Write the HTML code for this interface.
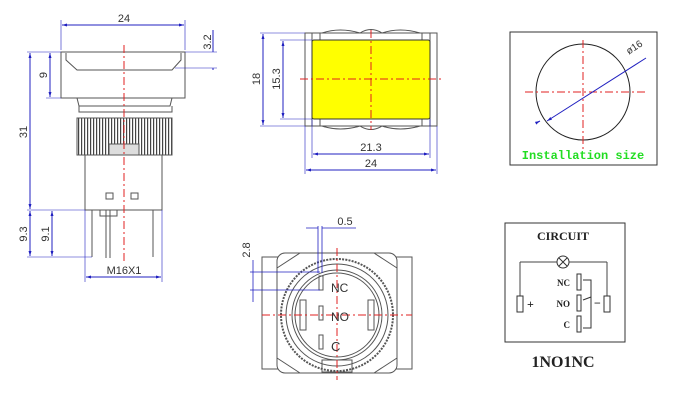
<!DOCTYPE html>
<html><head><style>body{margin:0;background:#fff}svg{display:block}</style></head><body>
<svg width="700" height="400" viewBox="0 0 700 400" xmlns="http://www.w3.org/2000/svg">
<defs>
<marker id="a" viewBox="0 0 10 10" refX="10" refY="5" markerWidth="5" markerHeight="5" orient="auto-start-reverse"><path d="M0,2L10,5L0,8z" fill="#2020c0"/></marker>
<pattern id="kn" width="3" height="10" patternUnits="userSpaceOnUse"><rect width="3" height="10" fill="#fff"/><rect width="1.2" height="10" fill="#444"/></pattern>
</defs>
<g fill="none" stroke="#555" stroke-width="1">
<rect x="61" y="52" width="124" height="46" fill="#fff"/>
<path d="M66,53 L66,60 L77,70 L172,70 L181,60 L181,53"/>
<path d="M77,98 L172,98 L170,106 L79,106 Z M79,106 L79,112 L172,112 L172,106"/>
<rect x="77" y="118" width="95" height="37" fill="url(#kn)"/>
<rect x="109" y="144" width="30" height="11" fill="#ddd"/>
<rect x="85" y="155" width="77" height="55" fill="#fff"/>
<rect x="106" y="193" width="7" height="6"/><rect x="131" y="193" width="7" height="6"/>
<path d="M92,210 L92,257 M153,210 L153,257 M106,210 L106,258 M110,210 L110,258 M100,210 L100,216 L117,216 L117,210"/>
<rect x="305" y="33" width="132" height="93" fill="#fff"/>
<path d="M312,33 L312,126 M430,33 L430,126 M320,33 L320,126 M422,33 L422,126"/>
<path d="M322,33 Q340,27 360,33 Q371,26 382,33 Q400,27 420,33 M322,126 Q340,132 360,126 Q371,133 382,126 Q400,132 420,126"/>
<rect x="312" y="40" width="118" height="79" rx="2" fill="#ffff00" stroke="#333"/>
<rect x="510" y="32" width="147" height="133" stroke="#333"/>
<ellipse cx="583" cy="92" rx="47" ry="48" stroke="#222"/>
<rect x="262" y="257" width="150" height="112" fill="#fff"/>
<rect x="277" y="253" width="120" height="120" rx="8" fill="#fff"/>
<circle cx="337" cy="315" r="56" stroke-dasharray="2 1.2" stroke-width="2"/>
<circle cx="337" cy="315" r="51"/>
<circle cx="337" cy="315" r="45"/>
<circle cx="337" cy="315" r="42"/>
<path d="M277,268 L300,253 M397,268 L374,253 M277,358 L300,373 M397,358 L374,373"/>
<rect x="300" y="300" width="6" height="30"/><rect x="368" y="300" width="6" height="30"/>
<rect x="319" y="276" width="4" height="14"/><rect x="319" y="306" width="4" height="14"/><rect x="319" y="335" width="4" height="14"/>
<rect x="322" y="360" width="30" height="12"/>
<rect x="505" y="223" width="120" height="119" stroke="#333"/>
<path d="M520,262 L520,296 M607,262 L607,296 M520,262 L557,262 M569,262 L607,262" stroke="#444"/>
<circle cx="563" cy="262" r="6" stroke="#333"/>
<path d="M559,258 L567,266 M567,258 L559,266" stroke="#333"/>
<rect x="517" y="296" width="6" height="16" stroke="#333"/><rect x="604" y="296" width="6" height="16" stroke="#333"/>
<rect x="577" y="274" width="4" height="16" stroke="#333"/><rect x="577" y="295" width="4" height="16" stroke="#333"/><rect x="577" y="316" width="4" height="16" stroke="#333"/>
<path d="M583,280 L591,280 L591,328 L583,328 M583,300 L591,297" stroke="#333"/>
</g>
<g stroke="#e02020" stroke-width="1" stroke-dasharray="8 3 2 3" fill="none">
<path d="M124,45 L124,262"/>
<path d="M371,30 L371,130 M300,79 L442,79"/>
<path d="M583,40 L583,150 M525,92 L645,92"/>
<path d="M337,248 L337,380 M262,315 L412,315"/>
</g>
<g stroke="#2020c0" stroke-width="1" fill="none">
<path d="M61,50 L61,20 M185,50 L185,20" stroke-width="0.6"/>
<path d="M62,25 L184,25" marker-start="url(#a)" marker-end="url(#a)"/>
<path d="M185,52 L217,52 M175,68 L217,68" stroke-width="0.6"/>
<path d="M213,30 L213,52 M213,68 L213,70" />
<path d="M27,52 L61,52 M46,98 L61,98 M27,210 L85,210 M27,257 L92,257" stroke-width="0.6"/>
<path d="M50,53 L50,97" marker-start="url(#a)" marker-end="url(#a)"/>
<path d="M30,53 L30,209" marker-start="url(#a)" marker-end="url(#a)"/>
<path d="M30,211 L30,256" marker-start="url(#a)" marker-end="url(#a)"/>
<path d="M52,211 L52,256" marker-start="url(#a)" marker-end="url(#a)"/>
<path d="M85,210 L85,282 M162,210 L162,282" stroke-width="0.6"/>
<path d="M86,277 L161,277" marker-start="url(#a)" marker-end="url(#a)"/>
<path d="M260,33 L305,33 M260,126 L305,126 M280,40 L312,40 M280,119 L312,119" stroke-width="0.6"/>
<path d="M263,34 L263,125" marker-start="url(#a)" marker-end="url(#a)"/>
<path d="M283,41 L283,118" marker-start="url(#a)" marker-end="url(#a)"/>
<path d="M312,119 L312,158 M430,119 L430,158 M305,126 L305,174 M437,126 L437,174" stroke-width="0.6"/>
<path d="M313,154 L429,154" marker-start="url(#a)" marker-end="url(#a)"/>
<path d="M306,170 L436,170" marker-start="url(#a)" marker-end="url(#a)"/>
<path d="M547,121 L646,58" marker-start="url(#a)"/>
<path d="M536,123 L540,121" marker-end="url(#a)"/>
<path d="M318,226 L318,273 M322,226 L322,273 M306,228 L318,228 M322,228 L356,228" stroke-width="0.8"/>
<path d="M250,272 L320,272 M250,290 L320,290" stroke-width="0.8"/>
<path d="M253,260 L253,302" stroke-width="0.8"/>
</g>
<g style="font-family:'Liberation Sans',sans-serif;font-size:11px" fill="#333">
<text x="124" y="22" text-anchor="middle">24</text>
<text transform="translate(211,42) rotate(-90)" text-anchor="middle">3.2</text>
<text transform="translate(47,75) rotate(-90)" text-anchor="middle">9</text>
<text transform="translate(27,132) rotate(-90)" text-anchor="middle">31</text>
<text transform="translate(27,234) rotate(-90)" text-anchor="middle">9.3</text>
<text transform="translate(49,234) rotate(-90)" text-anchor="middle">9.1</text>
<text x="124" y="274" text-anchor="middle">M16X1</text>
<text transform="translate(260,79) rotate(-90)" text-anchor="middle">18</text>
<text transform="translate(280,79) rotate(-90)" text-anchor="middle">15.3</text>
<text x="371" y="151" text-anchor="middle">21.3</text>
<text x="371" y="167" text-anchor="middle">24</text>
<text transform="translate(636,50) rotate(-33)" text-anchor="middle" style="font-size:10px">ø16</text>
<text x="345" y="225" text-anchor="middle">0.5</text>
<text transform="translate(250,250) rotate(-90)" text-anchor="middle">2.8</text>
<text x="331" y="292" style="font-size:12px">NC</text>
<text x="331" y="321" style="font-size:12px">NO</text>
<text x="331" y="351" style="font-size:13px">C</text>
</g>
<text x="583" y="159" text-anchor="middle" style="font-family:'Liberation Mono',monospace;font-weight:bold;font-size:12px" fill="#22dd22">Installation size</text>
<g style="font-family:'Liberation Serif',serif;font-weight:bold" fill="#222">
<text x="563" y="240" text-anchor="middle" style="font-size:12px">CIRCUIT</text>
<text x="563" y="367" text-anchor="middle" style="font-size:16px">1NO1NC</text>
<text x="570" y="286" text-anchor="end" style="font-size:9px">NC</text>
<text x="570" y="307" text-anchor="end" style="font-size:9px">NO</text>
<text x="570" y="328" text-anchor="end" style="font-size:9px">C</text>
<text x="527" y="308" style="font-size:12px">+</text>
<text x="594" y="307" style="font-size:12px">−</text>
</g>
</svg>
</body></html>
